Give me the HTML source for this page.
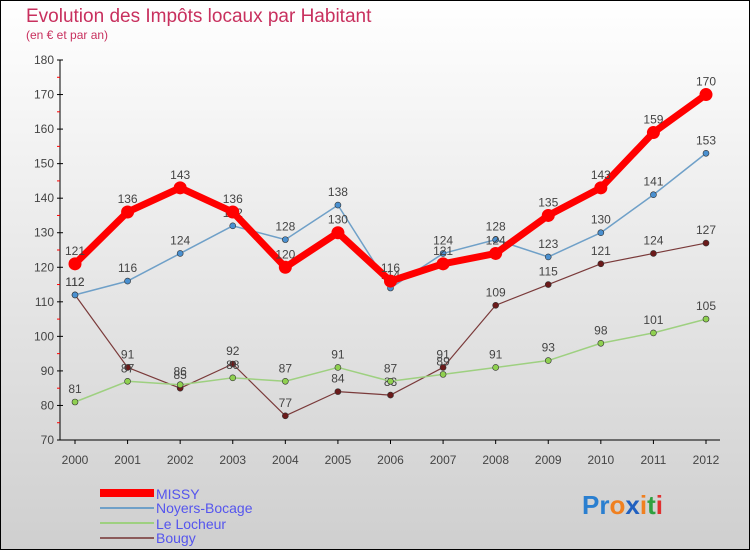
<!DOCTYPE html>
<html><head><meta charset="utf-8"><style>
html,body{margin:0;padding:0}
body{width:750px;height:550px;overflow:hidden;font-family:"Liberation Sans",sans-serif}
svg{display:block}
</style></head><body>
<svg id="chart" width="750" height="550" xmlns="http://www.w3.org/2000/svg">
<defs><linearGradient id="bg" x1="0" y1="0" x2="0" y2="1"><stop offset="0" stop-color="#ffffff"/><stop offset="1" stop-color="#cfcfcf"/></linearGradient></defs>
<rect x="0.5" y="0.5" width="749" height="549" fill="url(#bg)" stroke="#000"/>
<text x="26" y="22" font-size="19" fill="#c8305e">Evolution des Impôts locaux par Habitant</text>
<text x="26" y="39" font-size="12" fill="#c8305e">(en € et par an)</text>
<g id="axes"></g><g id="series"></g>
<g>
<rect x="100" y="489" width="54" height="8" fill="#f00"/>
<line x1="100" y1="508" x2="154" y2="508" stroke="#6fa0c8" stroke-width="2"/>
<line x1="100" y1="523" x2="154" y2="523" stroke="#9ed080" stroke-width="2"/>
<line x1="100" y1="538" x2="154" y2="538" stroke="#8b5a5a" stroke-width="2"/>
<text x="156" y="499" font-size="14" fill="#5555ee">MISSY</text>
<text x="156" y="513" font-size="14" fill="#5555ee">Noyers-Bocage</text>
<text x="156" y="529" font-size="14" fill="#5555ee">Le Locheur</text>
<text x="156" y="543" font-size="14" fill="#5555ee">Bougy</text>
</g>
<text x="582" y="514" font-size="26" font-weight="bold"><tspan fill="#2a7fd0">Pr</tspan><tspan fill="#f08020">o</tspan><tspan fill="#2060c0">x</tspan><tspan fill="#f08020">i</tspan><tspan fill="#30a040">t</tspan><tspan fill="#e03030">i</tspan></text>
</svg>
<script>
const years=["2000","2001","2002","2003","2004","2005","2006","2007","2008","2009","2010","2011","2012"];
const missy=[121,136,143,136,120,130,116,121,124,135,143,159,170];
const noyers=[112,116,124,132,128,138,114,124,128,123,130,141,153];
const locheur=[81,87,86,88,87,91,87,89,91,93,98,101,105];
const bougy=[112,91,85,92,77,84,83,91,109,115,121,124,127];
const yTicks=[70,80,90,100,110,120,130,140,150,160,170,180];
const NS="http://www.w3.org/2000/svg";
const x=i=>75+i*(706-75)/12;
const y=v=>440-(v-70)*380/110;
function mk(t,a,p){const e=document.createElementNS(NS,t);for(const k in a)e.setAttribute(k,a[k]);p.appendChild(e);return e;}
const ax=document.getElementById('axes');
const yl=mk('line',{x1:60,y1:60,x2:60,y2:440,stroke:'#000'},ax);


const xl=mk('line',{x1:60,y1:440,x2:720,y2:440,stroke:'#000'},ax);


yTicks.forEach(v=>{
 mk('line',{x1:57,y1:y(v),x2:63,y2:y(v),stroke:'#000'},ax);
 if(v<180) mk('line',{x1:57,y1:y(v+5),x2:60,y2:y(v+5),stroke:'#f00'},ax);
 const t=mk('text',{x:54,y:y(v)+4,'font-size':12,fill:'#444','text-anchor':'end'},ax);t.textContent=v;
 
 
});
years.forEach((yr,i)=>{
 mk('line',{x1:x(i),y1:440,x2:x(i),y2:444,stroke:'#000'},ax);
 const t=mk('text',{x:x(i),y:464,'font-size':12,fill:'#444','text-anchor':'middle'},ax);t.textContent=yr;
 
 
});
const sg=document.getElementById('series');
function series(name,data,color,w,r,dot){
 const g=mk('g',{},sg);
 
 
 mk('polyline',{points:data.map((v,i)=>x(i)+','+y(v)).join(' '),fill:'none',stroke:color,'stroke-width':w,'stroke-linejoin':'round'},g);
 data.forEach((v,i)=>{
  const c=mk('circle',{cx:x(i),cy:y(v),r:r,fill:dot,stroke:'#333','stroke-width':r>4?0:0.6},g);
  
  
  const t=mk('text',{x:x(i),y:y(v)-9,'font-size':12,fill:'#444','text-anchor':'middle'},g);t.textContent=v;
 });
}
series('series-bougy',bougy,'#7a3a3a',1.2,3,'#6b1a1a');
series('series-le-locheur',locheur,'#9ed080',1.5,3,'#8fd050');
series('series-noyers-bocage',noyers,'#6fa0c8',1.5,3,'#4a90d0');
series('series-missy',missy,'#f00',7,6.5,'#f00');
</script>
</body></html>
